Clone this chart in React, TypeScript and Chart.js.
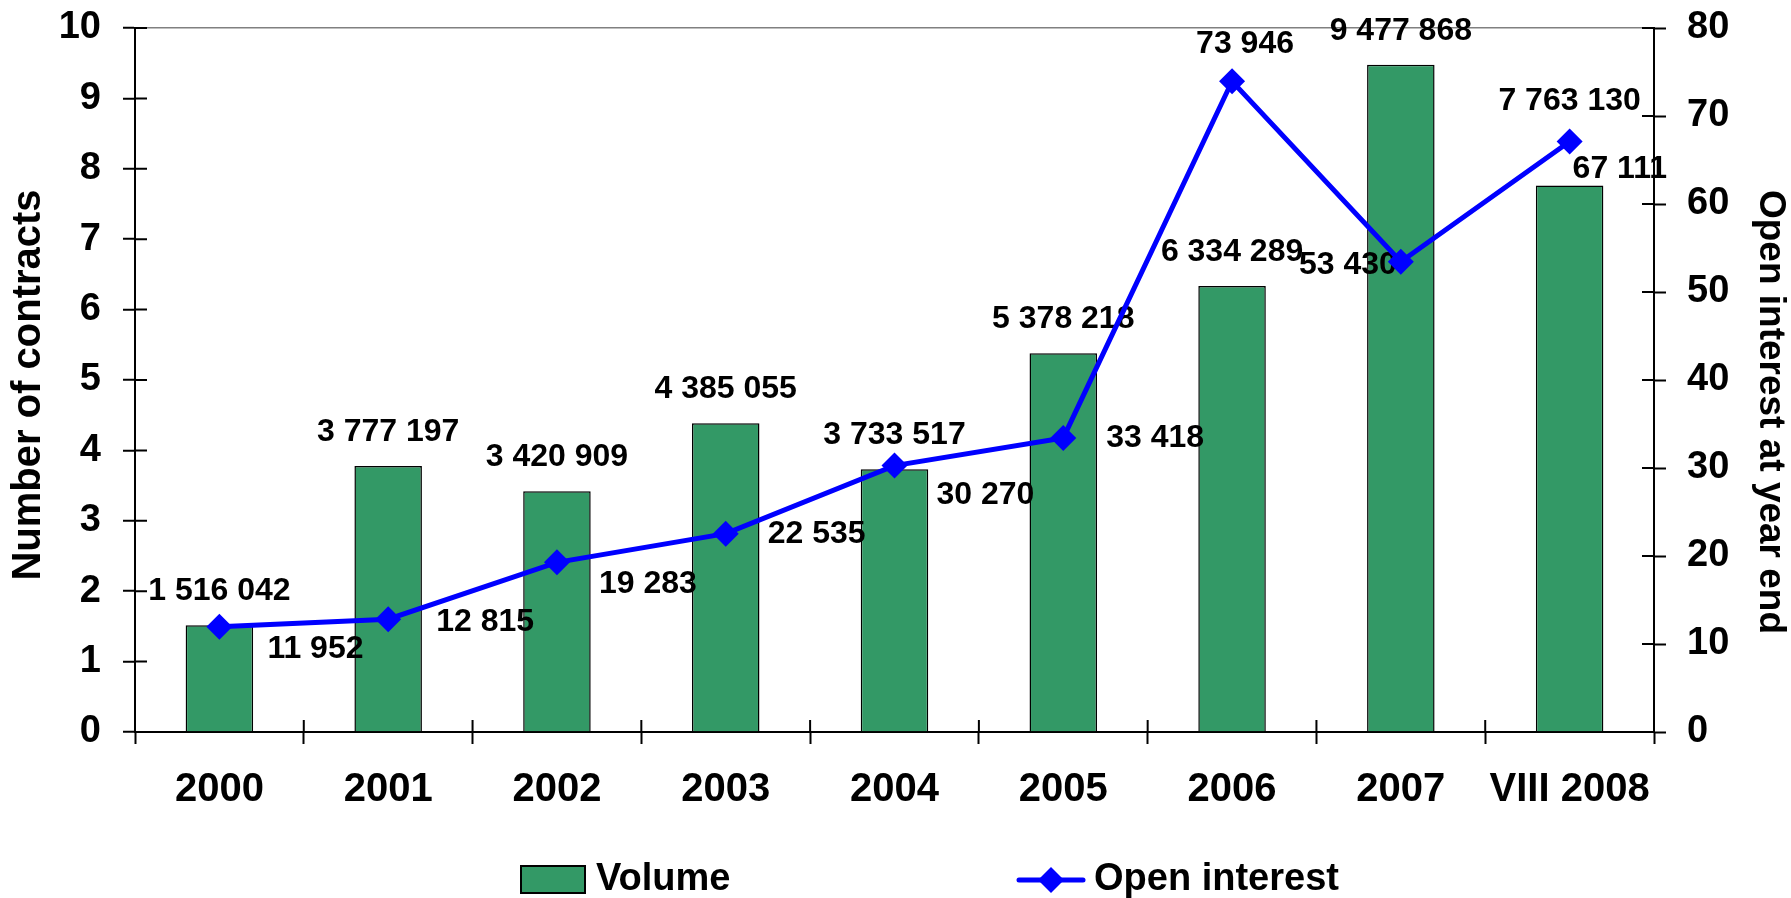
import React, { useEffect, useRef } from "react";
import { Chart, registerables } from "chart.js";

Chart.register(...registerables);

// ---- data ----
const categories = ["2000", "2001", "2002", "2003", "2004", "2005", "2006", "2007", "VIII 2008"];
const volume = [1516042, 3777197, 3420909, 4385055, 3733517, 5378218, 6334289, 9477868, 7763130];
const openInterest = [11952, 12815, 19283, 22535, 30270, 33418, 73946, 53430, 67111];
const volumeLabel = "Volume";
const openInterestLabel = "Open interest";
const leftTitle = "Number of contracts";
const rightTitle = "Open interest at year end";

const FONT = '"Liberation Sans", Arial, Helvetica, sans-serif';
const GREEN = "#339966";
const BLUE = "#0000FF";

const fmt = (n: number) => String(n).replace(/\B(?=(\d{3})+(?!\d))/g, " ");

// label placement relative to marks (layout only)
const volLabelLift = [34, 34, 34, 34, 34, 34, 34, 34, 84];
const oiLabelPlace: { dx: number; dy: number; align: CanvasTextAlign }[] = [
  { dx: 48, dy: 22, align: "left" },
  { dx: 48, dy: 3, align: "left" },
  { dx: 42, dy: 22, align: "left" },
  { dx: 42, dy: 0, align: "left" },
  { dx: 42, dy: 30, align: "left" },
  { dx: 43, dy: 0, align: "left" },
  { dx: 13, dy: -37, align: "center" },
  { dx: -4, dy: 3, align: "right" },
  { dx: 3, dy: 28, align: "left" },
];

const labelPlugin = {
  id: "valueLabels",
  afterDatasetDraw(chart: any, args: any) {
    if (args.index !== 0) return;
    const ctx = chart.ctx;
    ctx.save();
    ctx.font = `bold 32px ${FONT}`;
    ctx.fillStyle = "#000";
    ctx.textBaseline = "middle";
    const barMeta = chart.getDatasetMeta(0);
    barMeta.data.forEach((el: any, i: number) => {
      ctx.textAlign = "center";
      ctx.fillText(fmt(volume[i]), el.x, el.y - volLabelLift[i]);
    });
    const lineMeta = chart.getDatasetMeta(1);
    lineMeta.data.forEach((el: any, i: number) => {
      const p = oiLabelPlace[i];
      ctx.textAlign = p.align;
      ctx.fillText(fmt(openInterest[i]), el.x + p.dx, el.y + p.dy);
    });
    ctx.restore();
  },
};

const innerTicksPlugin = {
  id: "innerTicks",
  afterDraw(chart: any) {
    const ctx = chart.ctx;
    const { left, right, bottom } = chart.chartArea;
    const L = 12;
    ctx.save();
    ctx.strokeStyle = "#000";
    ctx.lineWidth = 2;
    ctx.beginPath();
    const y = chart.scales.y;
    y.ticks.forEach((t: any) => {
      const py = y.getPixelForValue(t.value);
      ctx.moveTo(left, py);
      ctx.lineTo(left + L, py);
    });
    const y1 = chart.scales.y1;
    y1.ticks.forEach((t: any) => {
      const py = y1.getPixelForValue(t.value);
      ctx.moveTo(right - L, py);
      ctx.lineTo(right, py);
    });
    const x = chart.scales.x;
    for (let i = 0; i <= categories.length; i++) {
      const px = x.getPixelForValue(i - 0.5);
      ctx.moveTo(px, bottom - L);
      ctx.lineTo(px, bottom);
    }
    ctx.stroke();
    ctx.restore();
  },
};

const axisTitlesPlugin = {
  id: "axisTitles",
  afterDraw(chart: any) {
    const ctx = chart.ctx;
    const { top, bottom } = chart.chartArea;
    const mid = (top + bottom) / 2;
    ctx.save();
    ctx.fillStyle = "#000";
    ctx.textAlign = "center";
    ctx.textBaseline = "middle";
    // left title
    ctx.save();
    ctx.font = `bold 40px ${FONT}`;
    ctx.translate(29, mid + 5);
    ctx.rotate(-Math.PI / 2);
    ctx.fillText(leftTitle, 0, 0);
    ctx.restore();
    // right title
    ctx.save();
    ctx.font = `bold 37px ${FONT}`;
    ctx.translate(1770, mid + 32);
    ctx.rotate(Math.PI / 2);
    ctx.fillText(rightTitle, 0, 0);
    ctx.restore();
    ctx.restore();
  },
};

const legendPlugin = {
  id: "customLegend",
  afterDraw(chart: any) {
    const ctx = chart.ctx;
    const cy = 880;
    ctx.save();
    ctx.font = `bold 38px ${FONT}`;
    ctx.textBaseline = "middle";
    ctx.textAlign = "left";
    // Volume
    ctx.fillStyle = GREEN;
    ctx.fillRect(521, 866, 64, 27);
    ctx.strokeStyle = "#000";
    ctx.lineWidth = 2;
    ctx.strokeRect(521, 866, 64, 27);
    ctx.fillStyle = "#000";
    ctx.fillText(chart.data.datasets[0].label, 596, cy);
    // Open interest
    ctx.strokeStyle = BLUE;
    ctx.lineWidth = 5;
    ctx.lineCap = "round";
    ctx.beginPath();
    ctx.moveTo(1019, cy);
    ctx.lineTo(1083, cy);
    ctx.stroke();
    ctx.fillStyle = BLUE;
    ctx.beginPath();
    ctx.moveTo(1051, cy - 13);
    ctx.lineTo(1064, cy);
    ctx.lineTo(1051, cy + 13);
    ctx.lineTo(1038, cy);
    ctx.closePath();
    ctx.fill();
    ctx.fillStyle = "#000";
    ctx.fillText(chart.data.datasets[1].label, 1094, cy);
    ctx.restore();
  },
};

export default function App() {
  const ref = useRef<HTMLCanvasElement>(null);
  useEffect(() => {
    const chart = new Chart(ref.current as HTMLCanvasElement, {
      type: "bar",
      data: {
        labels: categories,
        datasets: [
          {
            type: "bar",
            label: volumeLabel,
            data: volume.map((v) => v / 1e6),
            backgroundColor: GREEN,
            borderColor: "#000",
            borderWidth: 1.5,
            barPercentage: 0.4,
            categoryPercentage: 1,
            yAxisID: "y",
            order: 2,
          },
          {
            type: "line",
            label: openInterestLabel,
            data: openInterest.map((v) => v / 1000),
            borderColor: BLUE,
            backgroundColor: BLUE,
            borderWidth: 5,
            pointStyle: "rectRot",
            pointRadius: 13,
            pointBorderWidth: 0,
            pointBackgroundColor: BLUE,
            tension: 0,
            yAxisID: "y1",
            order: 1,
          },
        ],
      } as any,
      options: {
        responsive: false,
        animation: false,
        devicePixelRatio: 1,
        layout: { padding: { top: 28, left: 0, right: 0, bottom: 0 } },
        plugins: {
          legend: { display: false },
          tooltip: { enabled: false },
        },
        scales: {
          x: {
            grid: {
              offset: true,
              drawOnChartArea: false,
              tickLength: 12,
              tickColor: "#000",
              tickWidth: 2,
              color: "#000",
            },
            border: { color: "#000", width: 2 },
            ticks: {
              color: "#000",
              font: { family: FONT, size: 40, weight: "bold" },
              padding: 22,
              maxRotation: 0,
              autoSkip: false,
            },
            afterFit: (s: any) => {
              s.height = 166;
              s.paddingLeft = 0;
              s.paddingRight = 0;
            },
          },
          y: {
            position: "left",
            min: 0,
            max: 10,
            ticks: {
              stepSize: 1,
              color: "#000",
              font: { family: FONT, size: 38, weight: "bold" },
              padding: 22,
            },
            grid: {
              color: (c: any) => (c.tick && c.tick.value === 10 ? "#808080" : "rgba(0,0,0,0)"),
              lineWidth: 1.5,
              tickColor: "#000",
              tickWidth: 2,
              tickLength: 12,
            },
            border: { color: "#000", width: 2 },
            title: { display: false, text: leftTitle },
            afterFit: (s: any) => {
              s.width = 135;
              s.paddingTop = 0;
              s.paddingBottom = 0;
            },
          },
          y1: {
            position: "right",
            min: 0,
            max: 80,
            ticks: {
              stepSize: 10,
              color: "#000",
              font: { family: FONT, size: 38, weight: "bold" },
              padding: 21,
            },
            grid: {
              drawOnChartArea: false,
              tickColor: "#000",
              tickWidth: 2,
              tickLength: 12,
            },
            border: { color: "#000", width: 2 },
            title: { display: false, text: rightTitle },
            afterFit: (s: any) => {
              s.width = 137;
              s.paddingTop = 0;
              s.paddingBottom = 0;
            },
          },
        },
      } as any,
      plugins: [labelPlugin, innerTicksPlugin, axisTitlesPlugin, legendPlugin],
    });
    return () => chart.destroy();
  }, []);
  return (
    <div
      style={{
        position: "absolute",
        left: 0,
        top: 0,
        width: 1791,
        height: 898,
        background: "#fff",
      }}
    >
      <canvas ref={ref} width={1791} height={898} style={{ display: "block", width: 1791, height: 898 }} />
    </div>
  );
}
